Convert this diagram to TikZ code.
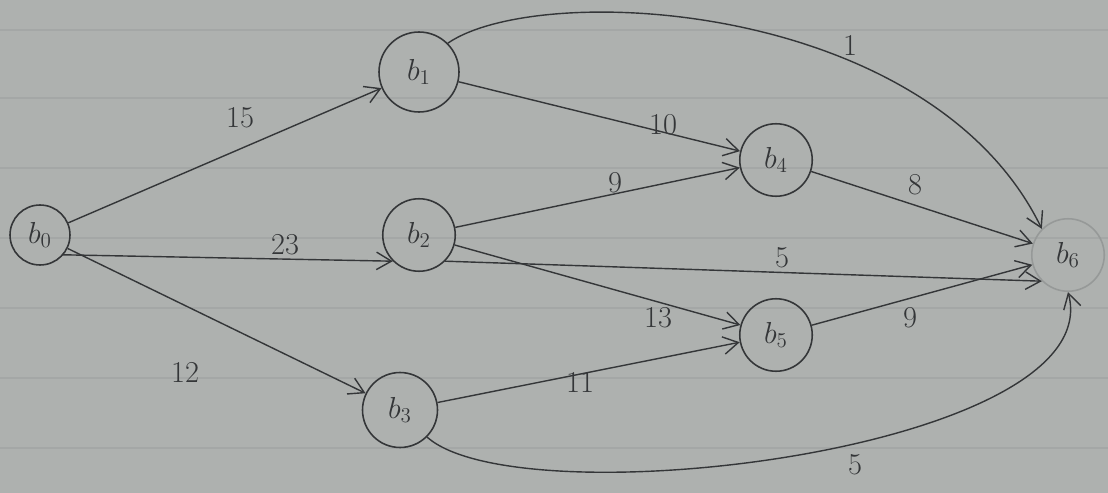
\documentclass[tikz,border=0pt]{standalone}
\usetikzlibrary{arrows.meta}
\definecolor{paper}{RGB}{174,177,175}
\definecolor{rule}{RGB}{164,167,166}
\definecolor{faint}{RGB}{150,153,152}
\definecolor{ink}{RGB}{52,54,56}
\begin{document}
\begin{tikzpicture}[x=0.02cm,y=-0.02cm,
  vertex/.style={circle,draw=ink,line width=0.9pt,minimum size=1.45cm,inner sep=0pt,text=ink,font=\LARGE},
  edge/.style={draw=ink,line width=0.8pt,-{Straight Barb[length=3mm,width=3.5mm]}},
  wlabel/.style={text=ink,font=\LARGE}]
  % paper
  \fill[paper] (0,0) rectangle (1108,493);
  \useasboundingbox (0,0) rectangle (1108,493);
  \foreach \y in {30,98,168,238,308,378,448}
    \draw[rule,line width=0.6pt] (0,\y) -- (1108,\y);
  % vertices
  \node[vertex,minimum size=1.2cm] (b0) at (40,235) {$b_0$};
  \node[vertex,minimum size=1.6cm] (b1) at (419,72) {$b_1$};
  \node[vertex] (b2) at (419,235) {$b_2$};
  \node[vertex,minimum size=1.5cm] (b3) at (400,410) {$b_3$};
  \node[vertex] (b4) at (776,160) {$b_4$};
  \node[vertex] (b5) at (776,335) {$b_5$};
  \node[vertex,draw=faint] (b6) at (1068,255) {$b_6$};
  % edges
  \draw[edge] (b0) -- (b1);
  \draw[edge] (b0.south east) ++(0,-2) -- (b2.south west);
  \draw[edge] (b0) -- (b3);
  \draw[edge] (b1) -- (b4);
  \draw[edge] (b2) -- (b4);
  \draw[edge] (b2) -- (b5);
  \draw[edge] (b3) -- (b5);
  \draw[edge] (b4) -- (b6);
  \draw[edge] (b5) -- (b6);
  \draw[edge] (b2.south east) -- (b6.south west);
  \draw[edge] (b1.north east) .. controls (540,-20) and (930,0) .. (b6.north west);
  \draw[edge] (b3.south east) .. controls (520,520) and (1110,450) .. (b6.south);
  % weights
  \node[wlabel] (w01) at (240,118) {15};
  \node[wlabel] (w02) at (285,245) {23};
  \node[wlabel] (w03) at (185,372) {12};
  \node[wlabel] (w14) at (663,125) {10};
  \node[wlabel] (w16) at (850,45) {1};
  \node[wlabel] (w24) at (615,183) {9};
  \node[wlabel] (w26) at (782,258) {5};
  \node[wlabel] (w25) at (658,318) {13};
  \node[wlabel] (w35) at (580,382) {11};
  \node[wlabel] (w46) at (915,185) {8};
  \node[wlabel] (w56) at (910,318) {9};
  \node[wlabel] (w36) at (855,465) {5};
\end{tikzpicture}
\end{document}
